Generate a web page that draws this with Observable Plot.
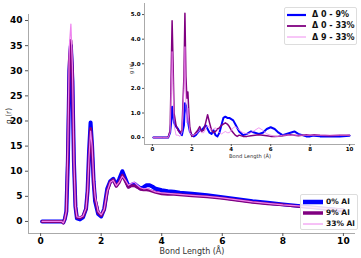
<!DOCTYPE html>
<html><head><meta charset="utf-8">
<script src="https://cdn.jsdelivr.net/npm/d3@7"></script>
<script src="https://cdn.jsdelivr.net/npm/@observablehq/plot@0.6"></script>
<style>
body{margin:0;background:#fff;font-family:"DejaVu Sans",sans-serif;}
#wrap{position:relative;width:361px;height:258px;}
#wrap svg{overflow:visible}
.leg{position:absolute;background:rgba(255,255,255,0.85);border:1px solid #ddd;border-radius:2px;font-weight:bold;color:#111;}
.leg .row{display:flex;align-items:center;white-space:nowrap;}
</style></head><body>
<div id="wrap"></div>
<script>
// ---- main chart data ----
const r = [0.05,0.2,0.4,0.6,0.7,0.75,0.8,0.85,0.9,0.95,1.0,1.05,1.1,1.15,1.2,1.3,1.4,1.5,1.55,1.6,1.65,1.7,1.75,1.8,1.9,2.0,2.1,2.2,2.3,2.4,2.5,2.6,2.7,2.8,2.9,3.0,3.1,3.2,3.3,3.4,3.5,3.6,3.7,3.8,4.0,4.2,4.4,4.6,4.8,5.0,5.5,6.0,6.5,7.0,7.5,8.0,8.5,9.0,9.5,10.0];
const g0 = [0,0,0,0,0,-0.2,0.5,2,12,30,35,28,12,3,0.6,0.4,0.8,2.5,6,14,19.7,15,8,4,1.5,1.0,2.5,6.5,8.0,8.5,7.2,8.5,10.0,8.5,7.0,7.3,7.5,7.0,6.6,6.8,7.2,7.2,6.9,6.5,6.2,6.0,5.9,5.7,5.6,5.5,5.2,4.8,4.4,4.0,3.7,3.4,3.1,2.8,2.5,2.2];
const g9 = [0,0,0,0,0,-0.3,0.5,2,14,32,36,30,12,3,0.8,0.7,1.0,2.5,6,13,18.5,15,8,4.5,1.8,1.2,2.3,6,7.8,8.3,7.0,7.8,9.2,8.0,6.8,7.1,7.1,6.8,6.4,6.3,6.3,6.2,6.0,5.8,5.5,5.4,5.4,5.3,5.2,5.1,4.9,4.6,4.2,3.8,3.5,3.3,3.0,2.8,2.5,2.3];
const g33 = [0,0,0,0,0,-0.3,0.5,2,15,35,39.3,31,12,3,0.9,0.8,1.1,2.6,6,13,18,15,8.5,5,2,1.3,2.4,6,7.8,8.2,7.1,7.9,9.0,8.2,7.2,7.6,7.8,7.2,6.7,6.5,6.6,6.4,6.1,5.9,5.7,5.6,5.5,5.4,5.3,5.2,5.0,4.7,4.3,3.9,3.6,3.3,3.1,2.8,2.5,2.3];
const mainNames = ["0% Al","9% Al","33% Al"];
const mainColors = ["#0000ff","#800080","#ee82ee"];
const mainWidths = [4,3,1.2];
const mainYTicks = [0,5,10,15,20,25,30,35,40];
const mainXTicks = [0,2,4,6,8,10];

// ---- inset data ----
const ri = [0.05,0.5,0.8,0.9,0.95,1.0,1.05,1.1,1.2,1.3,1.4,1.5,1.6,1.65,1.7,1.75,1.8,1.85,1.9,2.0,2.1,2.2,2.3,2.4,2.5,2.6,2.7,2.8,2.9,3.0,3.1,3.2,3.3,3.4,3.5,3.6,3.7,3.8,3.9,4.0,4.1,4.2,4.3,4.4,4.6,4.8,5.0,5.2,5.4,5.6,5.8,6.0,6.2,6.4,6.6,6.8,7.0,7.2,7.4,7.6,7.8,8.0,8.2,8.5,9.0,9.5,10.0];
const d0_9 = [0,0,0,0.2,0.6,1.25,0.9,0.6,0.45,0.35,0.2,0.1,0.5,1.4,1.3,1.0,0.7,0.45,0.25,0.1,0.05,0.1,0.2,0.3,0.3,0.4,0.5,0.35,0.2,0.15,0.3,0.1,0.05,0.2,0.5,0.8,0.85,0.8,0.8,0.75,0.7,0.55,0.4,0.25,0.1,0.15,0.25,0.2,0.15,0.2,0.35,0.42,0.35,0.2,0.1,0.15,0.2,0.25,0.15,0.1,0.05,0.05,0.08,0.05,0.06,0.05,0.08];
const d0_33 = [0,0,0,0.3,2.5,4.75,3.0,1.0,0.5,0.3,0.2,0.3,2.5,5.05,2.5,1.6,1.85,1.0,0.4,0.05,0.1,0.2,0.3,0.45,0.25,0.3,0.6,0.93,0.6,0.3,0.2,0.25,0.35,0.4,0.5,0.55,0.6,0.55,0.45,0.3,0.2,0.1,0.05,0.1,0.05,0.05,0.08,0.1,0.12,0.1,0.08,0.05,0.05,0.06,0.08,0.1,0.12,0.1,0.08,0.1,0.12,0.1,0.12,0.1,0.08,0.1,0.1];
const d9_33 = [0,0,0,0.2,1.8,3.5,2.2,0.5,0.1,0.1,0.05,0.2,2.0,3.7,1.3,0.6,1.2,0.6,0.2,0.1,0.1,0.15,0.2,0.3,0.2,0.2,0.35,0.5,0.4,0.3,0.35,0.4,0.3,0.2,0.15,0.2,0.25,0.2,0.2,0.3,0.4,0.45,0.4,0.3,0.2,0.15,0.2,0.3,0.4,0.3,0.15,0.1,0.05,0.05,0.1,0.1,0.1,0.1,0.1,0.1,0.1,0.1,0.1,0.1,0.1,0.1,0.1];
const insetNames = ["Δ 0 - 9%","Δ 0 - 33%","Δ 9 - 33%"];
const insetWidths = [2,1.5,0.8];
const insetYTicks = [0,1,2,3,4,5];
const insetXTicks = [0,2,4,6,8,10];

const mainSeries = [g0,g9,g33];
const insetSeries = [d0_9,d0_33,d9_33];

function lines(xs, series, widths){
  return series.map((ys,i)=>Plot.line(xs.map((x,j)=>({x, y: ys[j]})), {x:"x", y:"y", stroke: mainColors[i], strokeWidth: widths[i]}));
}

const wrap = document.getElementById("wrap");

const main = Plot.plot({
  width: 361, height: 258,
  marginLeft: 28, marginRight: 6, marginTop: 14, marginBottom: 25,
  style: {fontFamily: "DejaVu Sans", background: "transparent", overflow: "visible"},
  x: {domain: [-0.4, 10.4]},
  y: {domain: [-2.4, 41.2]},
  marks: [
    Plot.ruleX([-0.4], {stroke: "#aaa", strokeWidth: 1}),
    Plot.ruleY([-2.4], {stroke: "#aaa", strokeWidth: 1}),
    Plot.axisY({ticks: mainYTicks, tickSize: 3, tickPadding: 3, label: null, fontSize: 9, fontWeight: "bold", stroke: "#555"}),
    Plot.axisX({ticks: mainXTicks, tickSize: 3, tickPadding: 1, label: null, fontSize: 9, fontWeight: "bold", stroke: "#555"}),
    ...lines(r, mainSeries, mainWidths),
    Plot.text(["g (r)"], {frameAnchor: "left", dx: -20, rotate: -90, fontSize: 7.5, fill: "#333"}),
    Plot.text(["Bond Length (Å)"], {frameAnchor: "bottom", lineAnchor: "middle", dy: 18, fontSize: 8, fill: "#333"})
  ]
});
main.style.position = "absolute"; main.style.left = "0px"; main.style.top = "0px";
wrap.appendChild(main);

const inset = Plot.plot({
  width: 237, height: 162,
  marginLeft: 20, marginRight: 6, marginTop: 3, marginBottom: 18,
  style: {fontFamily: "DejaVu Sans", background: "transparent", overflow: "visible"},
  x: {domain: [-0.4, 10.3]},
  y: {domain: [-0.28, 5.45]},
  marks: [
    Plot.frame({fill: "white", stroke: "none"}),
    Plot.ruleX([-0.4], {stroke: "#aaa", strokeWidth: 1}),
    Plot.ruleY([-0.28], {stroke: "#aaa", strokeWidth: 1}),
    Plot.axisY({ticks: insetYTicks, tickSize: 2, tickPadding: 2, label: null, fontSize: 5.5, fontWeight: "bold", stroke: "#555"}),
    Plot.axisX({ticks: insetXTicks, tickSize: 2, tickPadding: 1, label: null, fontSize: 5.5, fontWeight: "bold", stroke: "#555"}),
    ...lines(ri, insetSeries, insetWidths),
    Plot.text(["g (r)"], {frameAnchor: "left", dx: -13, rotate: -90, fontSize: 5, fill: "#333"}),
    Plot.text(["Bond Length (Å)"], {frameAnchor: "bottom", lineAnchor: "middle", dy: 12, fontSize: 5.2, fill: "#333"})
  ]
});
inset.style.position = "absolute"; inset.style.left = "124px"; inset.style.top = "0px";
wrap.appendChild(inset);

function legend(names, widths, opts){
  const d = document.createElement("div");
  d.className = "leg";
  Object.assign(d.style, {left: opts.left+"px", top: opts.top+"px", width: opts.w+"px", height: opts.h+"px", fontSize: opts.fs+"px", padding: "1px 0 0 2px", boxSizing: "border-box"});
  names.forEach((n,i)=>{
    const row = document.createElement("div");
    row.className = "row";
    row.style.height = opts.rowH + "px";
    row.innerHTML = `<svg width="${opts.sw}" height="6" style="margin-right:${opts.gap}px;flex:none"><line x1="0" x2="${opts.sw}" y1="3" y2="3" stroke="${mainColors[i]}" stroke-width="${widths[i]}"/></svg><span>${n}</span>`;
    d.appendChild(row);
  });
  wrap.appendChild(d);
}
legend(insetNames, [2.2,1.8,0.9], {left: 284, top: 7, w: 73, h: 38, fs: 8, rowH: 11.3, sw: 19, gap: 6});
legend(mainNames, [4.5,3.5,1], {left: 300, top: 194, w: 58, h: 36, fs: 7.5, rowH: 11, sw: 20, gap: 3});
</script>
</body></html>
